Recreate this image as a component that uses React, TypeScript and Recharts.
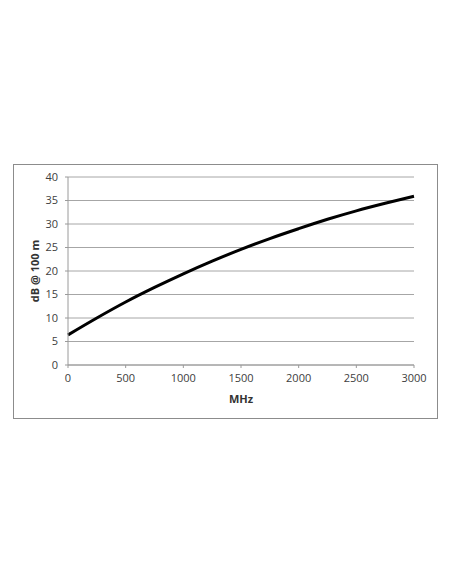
import React from 'react';
import { LineChart, Line, XAxis, YAxis, CartesianGrid } from 'recharts';

const freqMHz = [0, 250, 500, 750, 1000, 1250, 1500, 1750, 2000, 2250, 2500, 2750, 3000];
const lossDb = [6.4, 10.0, 13.4, 16.5, 19.4, 22.1, 24.6, 26.9, 29.0, 31.0, 32.8, 34.4, 35.9];
const xTicks = [0, 500, 1000, 1500, 2000, 2500, 3000];
const yTicks = [0, 5, 10, 15, 20, 25, 30, 35, 40];

const data = freqMHz.map((f, i) => ({ f, v: lossDb[i] }));

const font = '"Open Sans", "Liberation Sans", sans-serif';

export default function App() {
  return (
    <div
      style={{
        marginTop: 156,
        marginLeft: 5,
        width: 423,
        height: 253,
        border: '1px solid #8c8c8c',
        background: '#fff',
        fontFamily: font,
      }}
    >
      <LineChart width={423} height={253} data={data} margin={{ top: 12, right: 23, left: 0, bottom: 13 }}>
        <CartesianGrid vertical={false} stroke="#a6a6a6" strokeWidth={1} />
        <XAxis
          dataKey="f"
          type="number"
          domain={[0, 3000]}
          ticks={xTicks}
          interval={0}
          height={40}
          tickSize={3}
          tickMargin={6}
          stroke="#9a9a9a"
          tick={{ fill: '#404040', fontSize: 11, fontFamily: font }}
          label={{ value: 'MHz', position: 'insideBottom', offset: 2, fill: '#333', fontSize: 11, fontWeight: 700, fontFamily: font }}
        />
        <YAxis
          type="number"
          domain={[0, 40]}
          ticks={yTicks}
          interval={0}
          width={54}
          tickSize={3}
          tickMargin={7}
          stroke="#9a9a9a"
          tick={{ fill: '#404040', fontSize: 11, fontFamily: font }}
          label={{ value: 'dB @ 100 m', angle: -90, position: 'center', dx: -6, fill: '#333', fontSize: 11, fontWeight: 700, fontFamily: font }}
        />
        <Line
          type="monotone"
          dataKey="v"
          stroke="#000"
          strokeWidth={3}
          dot={false}
          isAnimationActive={false}
        />
      </LineChart>
    </div>
  );
}
